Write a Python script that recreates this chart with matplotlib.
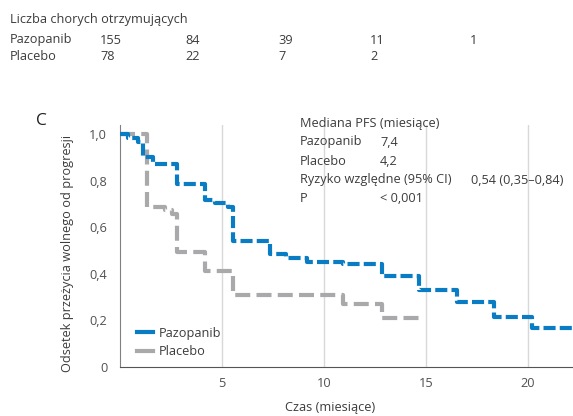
"""Pazopanib vs placebo PFS Kaplan-Meier style step chart (panel C)."""
import matplotlib
matplotlib.use("Agg")
import matplotlib.pyplot as plt
from matplotlib.lines import Line2D

plt.rcParams["font.family"] = ["Open Sans", "DejaVu Sans"]

# step curves: time where each level starts, survival level
paz_t = [0, 0.41, 0.91, 1.16, 1.61, 2.79, 4.18, 4.67, 5.32, 5.57, 7.37, 8.15,
         9.17, 10.96, 12.84, 14.64, 16.52, 18.31, 20.2, 22.2]
paz_s = [1.0, 0.984, 0.967, 0.903, 0.870, 0.784, 0.717, 0.703, 0.688, 0.541,
         0.484, 0.469, 0.452, 0.442, 0.391, 0.330, 0.278, 0.213, 0.168, 0.168]
pla_t = [0, 1.32, 2.23, 2.57, 2.79, 4.18, 5.57, 10.96, 12.84, 14.8]
pla_s = [1.0, 0.685, 0.674, 0.655, 0.495, 0.412, 0.309, 0.269, 0.209, 0.209]

x_ticks = [5, 10, 15, 20]
y_ticks = [0, 0.2, 0.4, 0.6, 0.8, 1.0]
y_labels = ["0", "0,2", "0,4", "0,6", "0,8", "1,0"]

at_risk_paz = ["155", "84", "39", "11", "1"]
at_risk_pla = ["78", "22", "7", "2"]
at_risk_x = [100, 185, 278, 370, 470]  # pixel positions of the columns

stats_rows = [("Pazopanib", "7,4"), ("Placebo", "4,2"),
              ("Ryzyko względne (95% CI)", ""), ("P", "< 0,001")]

BLUE = "#0a7cc4"
GREY = "#a9a9ab"
TXT = "#3c3c3c"
FS = 9.2
W, H = 573, 416

fig = plt.figure(figsize=(W / 100, H / 100), dpi=100)
ax = fig.add_axes([119.7 / W, 1 - 367 / H, (W - 119.7) / W, (367 - 125) / H])


def ftext(px, py, s, **kw):
    kw.setdefault("fontsize", FS)
    kw.setdefault("color", TXT)
    kw.setdefault("va", "center")
    fig.text(px / W, 1 - py / H, s, **kw)


ax.plot(pla_t, pla_s, drawstyle="steps-post", color=GREY, lw=3,
        dashes=(3.6, 1.5), dash_capstyle="butt", label="Placebo", zorder=3)
ax.plot(paz_t, paz_s, drawstyle="steps-post", color=BLUE, lw=3,
        dashes=(2.9, 1.0), dash_capstyle="butt", label="Pazopanib", zorder=4)

ax.set_xlim(0, 22.2)
ax.set_ylim(0, 1.039)
ax.set_xticks(x_ticks)
ax.set_yticks(y_ticks)
ax.set_yticklabels(y_labels)
for x in x_ticks:
    ax.axvline(x, color="#d8d8d8", lw=1, zorder=1)
for side in ("top", "right"):
    ax.spines[side].set_visible(False)
ax.spines["left"].set_color("#808080")
ax.spines["bottom"].set_color("#555555")
ax.tick_params(length=0, labelsize=FS, colors="#505050")
ax.tick_params(axis="x", pad=7)
ax.tick_params(axis="y", pad=9)

handles = [Line2D([], [], color=BLUE, lw=3), Line2D([], [], color=GREY, lw=3)]
ax.legend(handles, ["Pazopanib", "Placebo"], loc="lower left",
          bbox_to_anchor=(0.013, -0.012), frameon=False, handlelength=1.25,
          handletextpad=0.45, labelspacing=0.45, fontsize=FS,
          labelcolor=TXT)

ftext(10, 20, "Liczba chorych otrzymujących")
ftext(10, 40, "Pazopanib")
ftext(10, 57, "Placebo")
for x, s in zip(at_risk_x, at_risk_paz):
    ftext(x, 40, s)
for x, s in zip(at_risk_x, at_risk_pla):
    ftext(x, 57, s)

ftext(36, 121, "C", fontsize=12.5, color="#222222")
ftext(67, 253, "Odsetek przeżycia wolnego od progresji", rotation=90,
      ha="center")
ftext(330, 408, "Czas (miesiące)", ha="center")

ftext(300, 123, "Mediana PFS (miesiące)")
for i, (k, v) in enumerate(stats_rows):
    ftext(300, 142 + 19 * i, k)
    if v:
        ftext(380, 142 + 19 * i, v)
ftext(471, 180, "0,54 (0,35–0,84)")

fig.savefig("out.png", dpi=100)
